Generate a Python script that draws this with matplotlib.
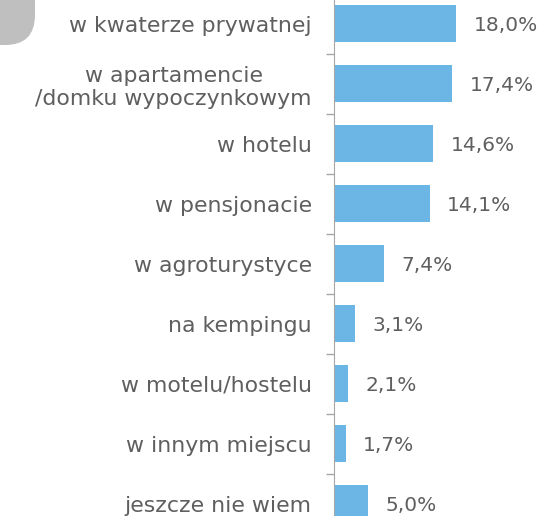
import matplotlib.pyplot as plt
from matplotlib.patches import FancyBboxPatch

# data
categories = ['w kwaterze prywatnej', 'w apartamencie\n/domku wypoczynkowym', 'w hotelu',
              'w pensjonacie', 'w agroturystyce', 'na kempingu', 'w motelu/hostelu',
              'w innym miejscu', 'jeszcze nie wiem']
values = [18.0, 17.4, 14.6, 14.1, 7.4, 3.1, 2.1, 1.7, 5.0]
value_labels = ['18,0%', '17,4%', '14,6%', '14,1%', '7,4%', '3,1%', '2,1%', '1,7%', '5,0%']

bar_color = '#6cb6e6'
text_color = '#5f5f5f'
W, H = 542, 516

plt.rcParams['font.family'] = ['DejaVu Sans']

fig = plt.figure(figsize=(W / 100, H / 100), dpi=100)
ax = fig.add_axes([334 / W, 0, 1 - 334 / W, 1])

pos = list(range(len(categories)))
ax.barh(pos, values, height=0.62, color=bar_color)

# chart is cropped: first bar centre at 23.5 px, spacing 60 px
ax.set_ylim((H - 23.5) / 60, -23.5 / 60)
ax.set_xlim(0, (W - 334) / 6.78)

for p, v, lab in zip(pos, values, value_labels):
    ax.text(v + 2.6, p + 0.03, lab, va='center', ha='left', fontsize=14.5, color=text_color)

ax.set_yticks(pos)
ax.set_yticklabels(categories, fontsize=15.8, color=text_color, multialignment='center')
ax.tick_params(axis='y', length=0, pad=16)
ax.set_yticks([p + 0.5 for p in pos[:-1]], minor=True)
ax.tick_params(axis='y', which='minor', length=6, color='#a6a6a6', width=1)
ax.set_xticks([])

for s in ['top', 'right', 'bottom']:
    ax.spines[s].set_visible(False)
ax.spines['left'].set_color('#a6a6a6')

# grey rounded shape in top-left corner (in inches, from top-left)
blob = FancyBboxPatch((-0.45, H / 100 - 0.45), 0.8, 0.9,
                      boxstyle='round,pad=0,rounding_size=0.3',
                      transform=fig.dpi_scale_trans, facecolor='#bfbfbf', edgecolor='none')
fig.patches.append(blob)

fig.savefig('out.png', dpi=100)
